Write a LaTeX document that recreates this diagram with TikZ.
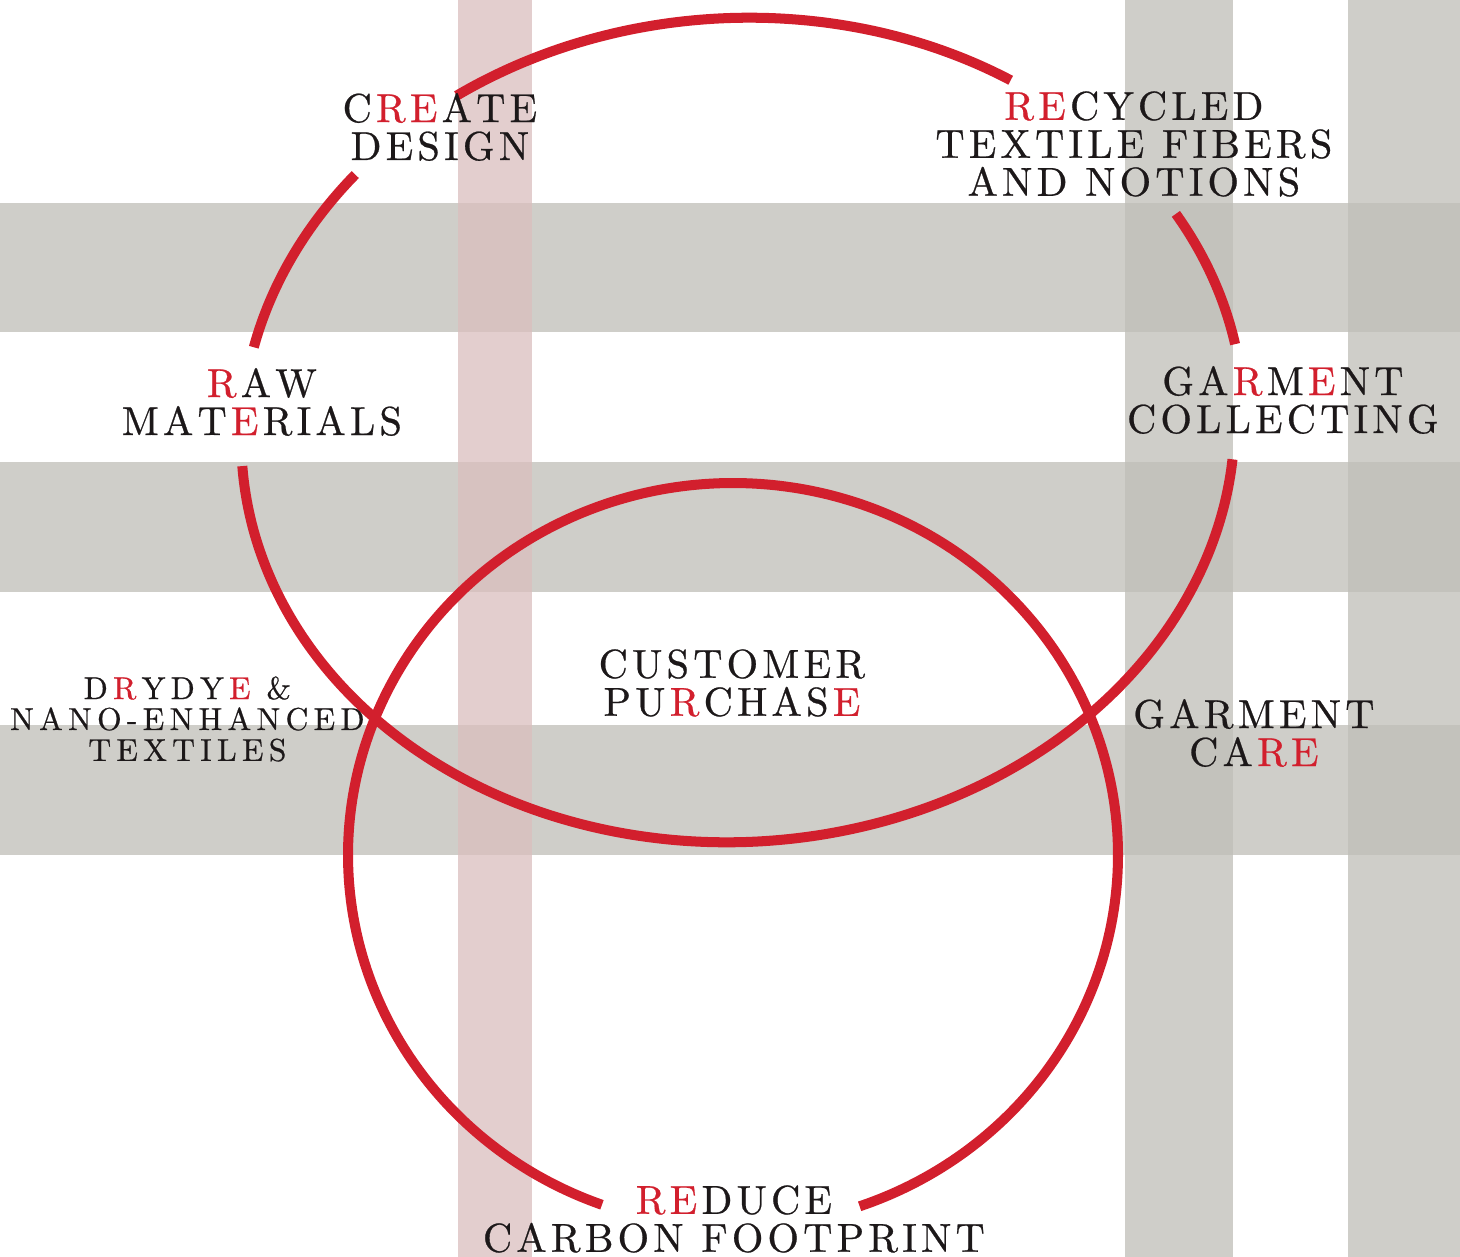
\documentclass[tikz,border=0pt]{standalone}
\usepackage{fontspec}
\setmainfont{lmroman10-regular}[Extension=.otf]
\newfontfamily\lblfam{lmroman10-regular}[Extension=.otf, FakeBold=0.6]
\usepackage{xcolor}
\definecolor{redc}{RGB}{210,31,45}
\definecolor{inkc}{RGB}{28,24,25}
\definecolor{stripegrey}{RGB}{192,190,184}
\definecolor{stripepink}{RGB}{218,190,190}
\newcommand\rd[1]{\textcolor{redc}{#1}}
% letter tracking for capitals
\XeTeXinterchartokenstate=1
\newXeTeXintercharclass\trkclass
\newcount\tmpc
\tmpc=`A
\loop
  \XeTeXcharclass\tmpc=\trkclass
  \ifnum\tmpc<`Z \advance\tmpc by 1
\repeat
\XeTeXcharclass`\&=\trkclass
\XeTeXcharclass`\-=\trkclass
\newdimen\trk
\setlength{\trk}{2.4pt}
\XeTeXinterchartoks\trkclass\trkclass={\kern\trk}
\XeTeXinterchartoks\trkclass 4095={\kern\trk}
\newcommand\bigfont{\lblfam\fontsize{23}{21.6}\selectfont\setlength{\trk}{2.4pt}}
\newcommand\smallfont{\lblfam\fontsize{18}{17.6}\selectfont\setlength{\trk}{3.0pt}}
\tikzset{
  redline/.style={draw=redc, line width=5.7pt, line cap=butt},
  greystripe/.style={fill=stripegrey, fill opacity=0.75},
  pinkstripe/.style={fill=stripepink, fill opacity=0.75},
  lbl/.style={inner sep=0pt, align=center, text=inkc, font=\bigfont},
  lblsmall/.style={inner sep=0pt, align=center, text=inkc, font=\smallfont},
}
\begin{document}
\begin{tikzpicture}[x=0.02cm, y=-0.02cm]
\useasboundingbox (0,0) rectangle (1460,1257);
\fill[white] (0,0) rectangle (1460,1257);
% plaid background
\fill[greystripe] (0,203) rectangle (1460,332);
\fill[greystripe] (0,462) rectangle (1460,592);
\fill[greystripe] (0,725) rectangle (1460,855);
\fill[greystripe] (1125,0) rectangle (1233,1257);
\fill[greystripe] (1348,0) rectangle (1460,1257);
\fill[pinkstripe] (458,0) rectangle (532,1257);
% upper ellipse (slightly tilted), drawn in four arcs
\draw[redline] plot[domain=238.4:306.2, samples=80, smooth]
  ({738+496.1*cos(\x)+25.15*sin(\x)},{430-30.34*cos(\x)+411.2*sin(\x)});
\draw[redline] plot[domain=195.8:222.5, samples=40, smooth]
  ({738+496.1*cos(\x)+25.15*sin(\x)},{430-30.34*cos(\x)+411.2*sin(\x)});
\draw[redline] plot[domain=332.6:352.2, samples=40, smooth]
  ({747+496.1*cos(\x)+25.15*sin(\x)},{430-30.34*cos(\x)+411.2*sin(\x)});
\draw[redline] plot[domain=8.3:179.2, samples=150, smooth]
  ({738+496.1*cos(\x)+25.15*sin(\x)},{430-30.34*cos(\x)+411.2*sin(\x)});
% lower circle
\draw[redline] plot[domain=109.9:430.8, samples=200, smooth]
  ({733+385*cos(\x)},{855+372*sin(\x)});
% labels
\node[lbl] (create) at (442,127) {C\rd{RE}ATE\\DESIGN};
\node[lbl] (recycled) at (1136,144) {\rd{RE}CYCLED\\TEXTILE FIBERS\\AND NOTIONS};
\node[lbl] (raw) at (264,402) {\rd{R}AW\\MAT\rd{E}RIALS};
\node[lbl] (collect) at (1285,400) {GA\rd{R}M\rd{E}NT\\COLLECTING};
\node[lblsmall] (drydye) at (190,719) {D\rd{R}YDY\rd{E} \&\\NANO-ENHANCED\\TEXTILES};
\node[lbl] (customer) at (734,683) {CUSTOMER\\PU\rd{R}CHAS\rd{E}};
\node[lbl] (care) at (1256,733) {GARMENT\\CA\rd{RE}};
\node[lbl] (reduce) at (736,1219) {\rd{RE}DUCE\\CARBON FOOTPRINT};
\end{tikzpicture}
\end{document}
